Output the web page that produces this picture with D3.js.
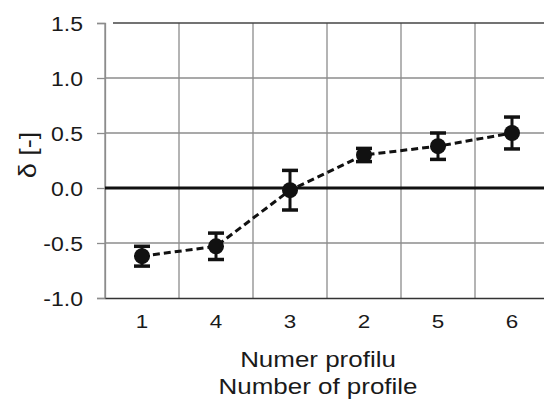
<!DOCTYPE html>
<html>
<head>
<meta charset="utf-8">
<script src="https://cdn.jsdelivr.net/npm/d3@7"></script>
<style>
  body { margin: 0; background: #fff; }
  text { font-family: "Liberation Sans", Arial, sans-serif; fill: #1a1a1a; }
</style>
</head>
<body>
<div id="chart"></div>
<script>
// data
var categories = ["1", "4", "3", "2", "5", "6"];
var values = [-0.62, -0.53, -0.02, 0.30, 0.38, 0.50];
var errors = [0.09, 0.12, 0.18, 0.06, 0.12, 0.145];
var yTicks = [-1.0, -0.5, 0.0, 0.5, 1.0, 1.5];

var W = 544, H = 399;
var margin = {top: 23, right: -5, bottom: 101, left: 105};
var width = W - margin.left - margin.right,
    height = H - margin.top - margin.bottom;
var sx = 1.18; // text in the picture is a bit wide

var svg = d3.select("#chart")
  .append("svg")
    .attr("width", W)
    .attr("height", H);

var g = svg.append("g")
    .attr("transform", "translate(" + margin.left + "," + margin.top + ")");

var x = d3.scaleBand()
    .domain(categories)
    .range([0, width]);

var y = d3.scaleLinear()
    .domain([-1, 1.5])
    .range([height, 0]);

// horizontal grid
g.selectAll(".hgrid")
    .data(yTicks.filter(function(d) { return d !== 0 && d !== -1 && d !== 1.5; }))
    .enter().append("line")
      .attr("x1", 0).attr("x2", width)
      .attr("y1", function(d) { return y(d); })
      .attr("y2", function(d) { return y(d); })
      .style("stroke", "#8c8c8c")
      .style("stroke-width", 1.3);

// vertical grid at category boundaries
g.selectAll(".vgrid")
    .data(categories)
    .enter().append("line")
      .attr("x1", function(d) { return x(d); })
      .attr("x2", function(d) { return x(d); })
      .attr("y1", 0).attr("y2", height)
      .style("stroke", "#8c8c8c")
      .style("stroke-width", 1.3);

// top border
g.append("line")
    .attr("x1", 8).attr("x2", width)
    .attr("y1", y(1.5)).attr("y2", y(1.5))
    .style("stroke", "#444").style("stroke-width", 1.5);

// y axis
var yAxis = g.append("g")
    .call(d3.axisLeft(y).tickValues(yTicks).tickSize(8).tickPadding(6));
yAxis.select(".domain").style("stroke", "#8c8c8c").style("stroke-width", 1.3);
yAxis.selectAll(".tick line").style("stroke", "#8c8c8c").style("stroke-width", 1.3);
yAxis.selectAll(".tick text")
    .attr("x", -22 / sx)
    .attr("dy", "0.36em")
    .attr("transform", "scale(" + sx + ",1)")
    .style("font-size", "19.5px")
    .style("font-family", "Liberation Sans, Arial, sans-serif")
    .attr("fill", "#1a1a1a")
    .text(function(d) { return d3.format(".1f")(d).replace("−", "-"); });

// x axis
var xAxis = g.append("g")
    .attr("transform", "translate(0," + height + ")")
    .call(d3.axisBottom(x).tickSize(0).tickPadding(14));
xAxis.select(".domain").style("stroke", "#333").style("stroke-width", 1.4);
xAxis.selectAll(".tick text")
    .attr("y", 0)
    .attr("dy", 30)
    .attr("transform", "scale(" + sx + ",1)")
    .style("font-size", "19px")
    .style("font-family", "Liberation Sans, Arial, sans-serif")
    .attr("fill", "#1a1a1a");

// zero line
g.append("line")
    .attr("x1", 0).attr("x2", width)
    .attr("y1", y(0)).attr("y2", y(0))
    .style("stroke", "#111").style("stroke-width", 3);

var cx = function(i) { return x(categories[i]) + x.bandwidth() / 2; };

// dashed line
var line = d3.line()
    .x(function(d, i) { return cx(i); })
    .y(function(d) { return y(d); });

g.append("path")
    .datum(values)
    .attr("d", line)
    .style("fill", "none")
    .style("stroke", "#111")
    .style("stroke-width", 3)
    .style("stroke-dasharray", "7,4");

// error bars
var eb = g.selectAll(".err")
    .data(values)
    .enter().append("g");

eb.append("line")
    .attr("x1", function(d, i) { return cx(i); })
    .attr("x2", function(d, i) { return cx(i); })
    .attr("y1", function(d, i) { return y(d + errors[i]); })
    .attr("y2", function(d, i) { return y(d - errors[i]); })
    .style("stroke", "#111").style("stroke-width", 3);

[1, -1].forEach(function(s) {
  eb.append("line")
    .attr("x1", function(d, i) { return cx(i) - 8; })
    .attr("x2", function(d, i) { return cx(i) + 8; })
    .attr("y1", function(d, i) { return y(d + s * errors[i]); })
    .attr("y2", function(d, i) { return y(d + s * errors[i]); })
    .style("stroke", "#111").style("stroke-width", 3.5);
});

// markers
g.selectAll(".pt")
    .data(values)
    .enter().append("circle")
      .attr("cx", function(d, i) { return cx(i); })
      .attr("cy", function(d) { return y(d); })
      .attr("r", 8)
      .style("fill", "#111");

// axis titles
svg.append("text")
    .attr("transform", "translate(318,367) scale(" + sx + ",1)")
    .attr("text-anchor", "middle")
    .style("font-size", "22px")
    .text("Numer profilu");

svg.append("text")
    .attr("transform", "translate(318,394) scale(" + sx + ",1)")
    .attr("text-anchor", "middle")
    .style("font-size", "22px")
    .text("Number of profile");

svg.append("text")
    .attr("transform", "translate(36,155) rotate(-90) scale(" + sx + ",1)")
    .attr("text-anchor", "middle")
    .style("font-size", "23px")
    .text("δ [-]");
</script>
</body>
</html>
